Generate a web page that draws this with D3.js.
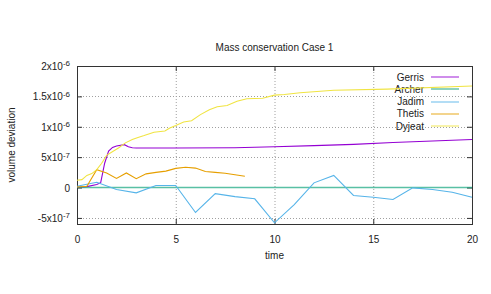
<!DOCTYPE html>
<html>
<head>
<meta charset="utf-8">
<script src="https://cdn.jsdelivr.net/npm/d3@7"></script>
<style>
  body { margin: 0; background: #fff; }
  text { font-family: "Liberation Sans", Arial, sans-serif; font-size: 10px; fill: #222; }
</style>
</head>
<body>
<div id="chart"></div>
<script>
// series
const gerrisT = [0, 0.5, 1.0, 1.2, 1.4, 1.6, 1.8, 2.0, 2.4, 2.6, 2.8, 3, 5, 8, 10, 12, 14, 16, 18, 20];
const gerrisV = [0, 1.5e-8, 5e-8, 8e-8, 4e-7, 6e-7, 6.6e-7, 6.85e-7, 7.05e-7, 6.7e-7, 6.55e-7, 6.5e-7, 6.5e-7, 6.55e-7, 6.7e-7, 6.9e-7, 7.1e-7, 7.4e-7, 7.65e-7, 7.9e-7];

const archerT = [0, 20];
const archerV = [0, 0];

const jadimT = [0, 1, 2, 3, 4, 5, 6, 7, 8, 9, 10, 11, 12, 13, 14, 15, 16, 17, 18, 19, 20];
const jadimV = [2e-8, 8.7e-8, -3.3e-8, -8.7e-8, 3.3e-8, 3.3e-8, -4.1e-7, -1e-7, -1.5e-7, -1.85e-7, -5.8e-7, -2.8e-7, 7.7e-8, 2e-7, -1.3e-7, -1.6e-7, -1.97e-7, -5e-9, -3.3e-8, -7.7e-8, -1.6e-7];

const thetisT = [0, 0.5, 1.0, 1.5, 2.0, 2.5, 3.0, 3.5, 4.0, 4.5, 5.0, 5.5, 6.0, 6.5, 7.0, 7.5, 8.0, 8.5];
const thetisV = [1e-8, 2e-8, 2.95e-7, 2.4e-7, 1.5e-7, 2.4e-7, 1.45e-7, 2.25e-7, 2.5e-7, 2.7e-7, 3.15e-7, 3.35e-7, 3.2e-7, 2.65e-7, 2.5e-7, 2.35e-7, 2.1e-7, 1.85e-7];

const dyjeatT = [0, 0.25, 0.5, 0.75, 1, 1.25, 1.5, 1.85, 2.1, 2.45, 2.8, 3.05, 3.4, 3.9, 4.45, 4.7, 5, 5.4, 5.8, 6.25, 6.7, 7.1, 7.6, 8.1, 8.6, 9.4, 10, 10.5, 11.3, 13, 15.7, 20];
const dyjeatV = [1.2e-7, 1.3e-7, 2e-7, 2.3e-7, 2.95e-7, 4e-7, 5.3e-7, 6e-7, 6.5e-7, 7.35e-7, 7.9e-7, 8.2e-7, 8.55e-7, 9.1e-7, 9.3e-7, 9.8e-7, 1.02e-6, 1.08e-6, 1.1e-6, 1.2e-6, 1.28e-6, 1.33e-6, 1.35e-6, 1.42e-6, 1.46e-6, 1.47e-6, 1.52e-6, 1.53e-6, 1.56e-6, 1.6e-6, 1.62e-6, 1.67e-6];

const seriesNames = ["Gerris", "Archer", "Jadim", "Thetis", "Dyjeat"];
const seriesColors = ["#9400d3", "#009e73", "#56b4e9", "#e69f00", "#f0e442"];

const xTickValues = [0, 5, 10, 15, 20];
const yTickValues = [-5e-7, 0, 5e-7, 1e-6, 1.5e-6, 2e-6];
const yTickLabels = ["-5x10^-7", "0", "5x10^-7", "1x10^-6", "1.5x10^-6", "2x10^-6"];

const titleText = "Mass conservation Case 1";
const xLabel = "time";
const yLabel = "volume deviation";

var margin = { top: 66, right: 19, bottom: 70, left: 77 },
  width = 491 - margin.left - margin.right,
  height = 294 - margin.top - margin.bottom;

var svgRoot = d3.select("#chart")
  .append("svg")
  .attr("width", 491)
  .attr("height", 294);

var svg = svgRoot.append("g")
  .attr("transform", "translate(" + margin.left + "," + margin.top + ")");

var x = d3.scaleLinear().domain([0, 20]).range([0, width]);
var y = d3.scaleLinear().domain([-6e-7, 2e-6]).range([height, 0]);

// grid (the zero line is hidden under Archer anyway)
svg.append("g")
  .selectAll("line")
  .data(xTickValues.slice(1, -1))
  .join("line")
  .attr("x1", d => x(d) + 0.5).attr("x2", d => x(d) + 0.5)
  .attr("y1", 0).attr("y2", height)
  .attr("stroke", "#a0a0a0").attr("stroke-dasharray", "1,2");
svg.append("g")
  .selectAll("line")
  .data(yTickValues.filter(v => v < 2e-6 && v != 0))
  .join("line")
  .attr("y1", d => Math.round(y(d)) + 0.5).attr("y2", d => Math.round(y(d)) + 0.5)
  .attr("x1", 0).attr("x2", width)
  .attr("stroke", "#a0a0a0").attr("stroke-dasharray", "1,2");

// axes with inward ticks, mirrored
var xb = svg.append("g").attr("transform", "translate(0," + height + ")")
  .call(d3.axisBottom(x).tickValues(xTickValues).tickSize(-5).tickPadding(12).tickFormat(d3.format("d")));
var xt = svg.append("g")
  .call(d3.axisTop(x).tickValues(xTickValues).tickSize(-5).tickFormat(""));
var yl = svg.append("g")
  .call(d3.axisLeft(y).tickValues(yTickValues).tickSize(-5).tickPadding(8).tickFormat(""));
var yr = svg.append("g").attr("transform", "translate(" + width + ",0)")
  .call(d3.axisRight(y).tickValues(yTickValues).tickSize(-5).tickFormat(""));

[xb, xt, yl, yr].forEach(function (a) {
  a.select(".domain").remove();
  a.selectAll(".tick line").attr("stroke", "#333");
});
xb.selectAll(".tick text").style("font-size", "10px").attr("fill", "#222");

// y tick labels with superscript exponent
yl.selectAll(".tick text").each(function (d, i) {
  var parts = yTickLabels[i].split("^");
  var t = d3.select(this).attr("fill", "#222").attr("x", -7).attr("dy", "0.35em");
  t.append("tspan").text(parts[0]);
  if (parts.length > 1) {
    t.append("tspan").attr("dy", "-0.45em").style("font-size", "8px").text(parts[1]);
  }
});

// border
svg.append("rect")
  .attr("x", 0.5).attr("y", 0.5)
  .attr("width", width).attr("height", height)
  .attr("fill", "none").attr("stroke", "#333");

// legend
var legend = svg.append("g");
seriesNames.forEach(function (name, i) {
  var ly = 11 + i * 12.3;
  legend.append("text")
    .attr("x", 347).attr("y", ly).attr("dy", "0.35em")
    .attr("text-anchor", "end").text(name);
  legend.append("line")
    .attr("x1", 354).attr("x2", 382)
    .attr("y1", Math.round(ly)).attr("y2", Math.round(ly))
    .attr("stroke", seriesColors[i]).attr("stroke-width", 1.2)
    .attr("stroke-opacity", 0.75);
});

// lines
var line = d3.line().x(d => x(d[0])).y(d => y(d[1]));
var seriesData = [
  d3.zip(gerrisT, gerrisV),
  d3.zip(archerT, archerV),
  d3.zip(jadimT, jadimV),
  d3.zip(thetisT, thetisV),
  d3.zip(dyjeatT, dyjeatV)
];
svg.append("g")
  .selectAll("path")
  .data(seriesData)
  .join("path")
  .attr("d", line)
  .attr("fill", "none")
  .attr("stroke", (d, i) => seriesColors[i])
  .attr("stroke-opacity", (d, i) => i == 1 ? 0.65 : 1)
  .attr("stroke-width", (d, i) => i == 1 ? 1.4 : 1.1);

// titles
svgRoot.append("text")
  .attr("x", margin.left + width / 2).attr("y", 51)
  .attr("text-anchor", "middle").text(titleText);
svgRoot.append("text")
  .attr("x", margin.left + width / 2).attr("y", 259)
  .attr("text-anchor", "middle").text(xLabel);
svgRoot.append("text")
  .attr("transform", "translate(15," + (margin.top + height / 2) + ") rotate(-90)")
  .attr("text-anchor", "middle").text(yLabel);
</script>
</body>
</html>
